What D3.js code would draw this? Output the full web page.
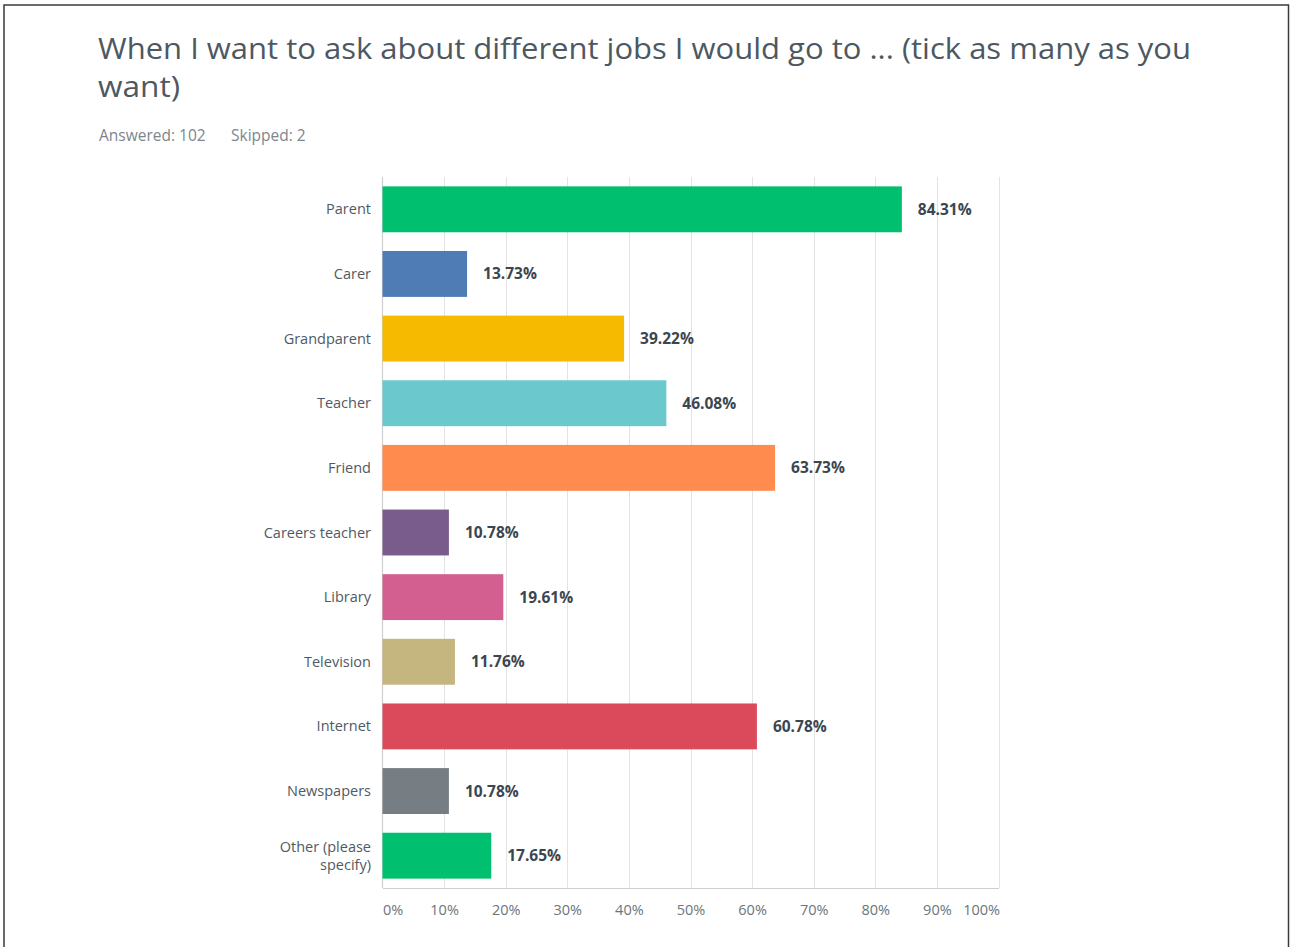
<!DOCTYPE html>
<html>
<head>
<meta charset="utf-8">
<script src="https://cdn.jsdelivr.net/npm/d3@7"></script>
<style>
  html, body { margin: 0; padding: 0; background: #fff; }
  svg { display: block; }
</style>
</head>
<body>
<svg id="chart" width="1290" height="947"></svg>
<script>
// Survey question: where respondents go to ask about different jobs
const titleLines = ["When I want to ask about different jobs I would go to ... (tick as many as you", "want)"];
const answeredText = "Answered: 102";
const skippedText = "Skipped: 2";

const categories = ["Parent", "Carer", "Grandparent", "Teacher", "Friend", "Careers teacher",
  "Library", "Television", "Internet", "Newspapers", "Other (please specify)"];
const values = [84.31, 13.73, 39.22, 46.08, 63.73, 10.78, 19.61, 11.76, 60.78, 10.78, 17.65];
const colors = ["#00BF6F", "#507CB6", "#F6BA00", "#6BC8CD", "#FF8B4F", "#7A5C8C",
  "#D25F90", "#C5B57F", "#DA4A5A", "#767E83", "#00BF6F"];
const tickValues = [0, 10, 20, 30, 40, 50, 60, 70, 80, 90, 100];

const FONT = "'Open Sans', 'Noto Sans', sans-serif";
const svg = d3.select("#chart");

// outer frame
svg.append("rect")
  .attr("x", 4).attr("y", 5).attr("width", 1284.5).attr("height", 950)
  .attr("fill", "none").attr("stroke", "#3a3a3a").attr("stroke-width", 1.5);

// title
const title = svg.append("text")
  .attr("font-family", FONT).attr("font-size", 29).attr("fill", "#4d5862");
title.append("tspan").attr("x", 98).attr("y", 59).text(titleLines[0])
  .attr("textLength", 1093).attr("lengthAdjust", "spacingAndGlyphs");
title.append("tspan").attr("x", 98).attr("y", 97).text(titleLines[1])
  .attr("textLength", 82).attr("lengthAdjust", "spacingAndGlyphs");

// response counts
svg.append("text").attr("x", 99).attr("y", 141)
  .attr("font-family", FONT).attr("font-size", 15.5).attr("fill", "#7d868c")
  .text(answeredText);
svg.append("text").attr("x", 231).attr("y", 141)
  .attr("font-family", FONT).attr("font-size", 15.5).attr("fill", "#7d868c")
  .text(skippedText);

// scales
const x = d3.scaleLinear().domain([0, 100]).range([382.5, 998.5]);
const y = d3.scaleBand().domain(categories).range([177, 888]).paddingInner(0.29).paddingOuter(0.145);

const plotTop = 177, plotBottom = 888;

// vertical gridlines
svg.append("g").selectAll("line").data(tickValues.slice(1)).join("line")
  .attr("x1", d => Math.round(x(d)) + 0.5).attr("x2", d => Math.round(x(d)) + 0.5)
  .attr("y1", plotTop).attr("y2", plotBottom)
  .attr("stroke", "#e3e3e3").attr("stroke-width", 1);

// x axis
const xAxis = svg.append("g")
  .attr("transform", `translate(0,${plotBottom})`)
  .call(d3.axisBottom(x).tickValues(tickValues).tickFormat(d => d + "%").tickSize(0).tickPadding(17));
xAxis.select(".domain").attr("stroke", "#cfcfcf").attr("stroke-width", 1.2);
xAxis.selectAll("text")
  .attr("font-family", FONT).attr("font-size", 14.5).attr("fill", "#6b757c")
  .attr("text-anchor", (d, i) => i === 0 ? "start" : (i === tickValues.length - 1 ? "end" : "middle"))
  .attr("dx", (d, i) => i === tickValues.length - 1 ? 1 : 0);

// left axis line
svg.append("line")
  .attr("x1", Math.round(x(0)) - 0.5).attr("x2", Math.round(x(0)) - 0.5)
  .attr("y1", plotTop).attr("y2", plotBottom)
  .attr("stroke", "#cfcfcf").attr("stroke-width", 1.2);

// category labels
const yAxis = svg.append("g");
yAxis.selectAll("text").data(categories).join("text")
  .attr("x", 371)
  .attr("text-anchor", "end")
  .attr("font-family", FONT).attr("font-size", 14.5).attr("fill", "#4f5a63")
  .each(function (d) {
    const cy = y(d) + y.bandwidth() / 2;
    const el = d3.select(this);
    if (d === "Other (please specify)") {
      el.append("tspan").attr("x", 371).attr("y", cy - 4).text("Other (please");
      el.append("tspan").attr("x", 371).attr("y", cy + 14).text("specify)");
    } else {
      el.attr("y", cy + 5).text(d);
    }
  });

// bars
svg.append("g").selectAll("rect").data(categories).join("rect")
  .attr("x", x(0))
  .attr("y", d => y(d))
  .attr("width", (d, i) => x(values[i]) - x(0))
  .attr("height", y.bandwidth())
  .attr("fill", (d, i) => colors[i]);

// value labels
svg.append("g").selectAll("text").data(categories).join("text")
  .attr("x", (d, i) => x(values[i]) + 16)
  .attr("y", d => y(d) + y.bandwidth() / 2 + 5.5)
  .attr("font-family", FONT).attr("font-size", 15.5).attr("font-weight", 700)
  .attr("fill", "#3b4650")
  .text((d, i) => values[i].toFixed(2) + "%");
</script>
</body>
</html>
